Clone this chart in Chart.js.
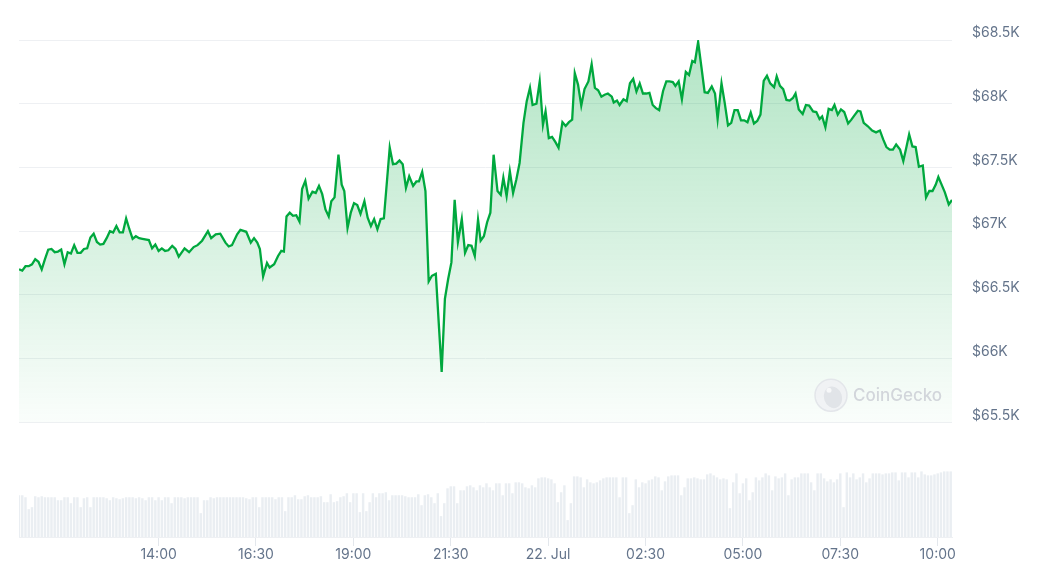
<!doctype html>
<html lang="en">
  <head>
    <meta charset="utf-8">
    <title>BTC price 24h</title>
    <style>
      * {
        margin: 0;
        padding: 0;
      }
      body {
        background: #fff;
      }
      .chartBox {
        width: 1042px;
        height: 573px;
        position: relative;
      }
    </style>
  </head>
  <body>
    <div class="chartBox">
      <canvas id="myChart"></canvas>
    </div>
    <script src="https://cdn.jsdelivr.net/npm/chart.js"></script>
    <script>
    // price points: minutes since 00:00 on 21 Jul, price in USD
    const minutes = [
      625,630,635,640,645,650,655,660,665,670,
      675,680,685,690,695,700,705,710,715,720,
      725,730,735,740,745,750,755,760,765,770,
      775,780,785,790,795,800,805,810,815,825,
      830,835,840,845,850,855,861,866,871,880,
      887,894,900,907,916,921,928,935,943,948,
      953,961,966,975,982,987,992,996,1001,1007,
      1011,1018,1024,1029,1033,1037,1042,1047,1052,1057,
      1061,1066,1071,1077,1082,1087,1092,1097,1102,1106,
      1111,1117,1122,1126,1131,1136,1141,1146,1151,1157,
      1162,1167,1172,1177,1182,1187,1196,1201,1206,1211,
      1216,1221,1226,1232,1237,1241,1246,1251,1256,1261,
      1267,1272,1276,1281,1286,1291,1296,1301,1307,1312,
      1317,1322,1327,1332,1336,1341,1346,1351,1356,1362,
      1367,1371,1376,1381,1386,1391,1396,1402,1407,1412,
      1416,1422,1427,1432,1436,1441,1446,1451,1456,1462,
      1467,1472,1477,1481,1486,1491,1496,1502,1507,1512,
      1517,1522,1527,1532,1538,1541,1546,1550,1556,1561,
      1566,1571,1576,1581,1586,1591,1596,1601,1606,1611,
      1617,1622,1627,1632,1636,1641,1646,1652,1657,1662,
      1666,1671,1676,1681,1686,1692,1697,1701,1707,1712,
      1717,1722,1727,1732,1737,1742,1747,1752,1757,1762,
      1767,1772,1777,1782,1788,1792,1797,1802,1807,1812,
      1817,1821,1826,1832,1837,1842,1848,1853,1858,1862,
      1867,1872,1877,1881,1886,1891,1896,1902,1907,1912,
      1917,1921,1926,1932,1939,1945,1951,1956,1961,1966,
      1971,1976,1982,1987,1992,1996,2001,2006,2011,2017,
      2022,2027,2032,2037,2041,2046,2051,2057,2062
    ];
    const prices = [
      66700,66690,66725,66725,66740,66780,66760,66700,66780,66855,
      66860,66835,66840,66855,66740,66835,66825,66890,66830,66830,
      66860,66865,66950,66980,66915,66895,66900,66945,67000,66990,
      67040,66990,66990,67100,67015,66940,66960,66945,66940,66930,
      66865,66895,66845,66865,66845,66850,66885,66860,66800,66865,
      66835,66875,66890,66925,67000,66945,66975,66980,66910,66880,
      66890,66975,67010,66995,66910,66945,66910,66860,66645,66750,
      66715,66740,66805,66845,66840,67115,67145,67120,67125,67075,
      67330,67395,67255,67310,67300,67355,67290,67170,67115,67235,
      67265,67600,67365,67315,67025,67145,67220,67205,67135,67235,
      67105,67040,67095,67015,67095,67100,67655,67525,67530,67555,
      67525,67340,67430,67355,67390,67390,67465,67315,66605,66650,
      66665,66235,65895,66470,66625,66755,67245,66915,67095,66830,
      66890,66885,66805,67090,66925,66960,67070,67145,67600,67315,
      67285,67420,67275,67470,67300,67405,67535,67850,68020,68125,
      67990,68000,68175,67835,67940,67730,67740,67700,67655,67855,
      67825,67855,67875,68240,68150,67985,68115,68175,68310,68125,
      68105,68055,68070,68080,68055,68010,68025,67990,68035,68020,
      68160,68195,68095,68160,68080,68080,68085,67990,67965,67950,
      68100,68175,68175,68170,68140,68175,68035,68250,68225,68335,
      68325,68485,68290,68090,68085,68135,68080,67880,68160,68005,
      67830,67850,67950,67950,67870,67870,67855,67930,67845,67865,
      67915,68180,68220,68160,68130,68215,68140,68115,68030,68025,
      68045,68080,67955,67920,67990,67985,67940,67935,67880,67900,
      67815,67960,67950,67990,67915,67955,67935,67845,67875,67910,
      67945,67940,67850,67825,67790,67775,67790,67720,67660,67640,
      67640,67680,67640,67550,67665,67760,67665,67660,67505,67515,
      67265,67315,67315,67365,67425,67365,67305,67210,67245
    ];

    // 5-minute volume bars (USD millions), first bar at volStart
    const volStart = 625;
    const volStep = 5;
    const volumes = [
      42,42,40,28,30,41,40,41,40,40,
      40,40,37,37,40,40,34,40,40,30,
      39,40,30,40,40,40,40,39,37,40,
      39,38,39,40,40,40,39,40,39,37,
      40,40,37,40,37,40,40,34,40,40,
      40,39,40,40,40,40,24,37,37,40,
      39,40,40,40,40,40,40,40,40,40,
      39,38,40,40,30,40,40,40,40,38,
      40,40,26,40,40,42,38,38,41,42,
      40,40,40,41,35,35,43,35,36,40,
      41,44,35,44,44,25,44,26,35,44,
      40,44,44,45,37,42,42,42,42,41,
      40,40,40,43,32,42,43,40,34,44,
      21,34,49,51,51,34,47,47,51,52,
      50,47,52,50,54,50,47,54,54,42,
      54,
      54,44,55,55,54,50,49,52,50,59,
      60,60,59,58,54,35,45,52,17,34,
      61,61,60,50,58,55,54,55,57,59,
      60,60,60,60,40,60,60,24,32,58,
      50,55,54,57,58,61,60,47,56,61,
      62,62,62,42,50,59,59,60,59,58,
      58,63,64,62,60,58,59,58,29,55,
      64,44,54,59,37,45,60,57,60,64,
      62,47,61,59,60,64,42,58,60,60,
      64,64,64,55,47,64,64,59,56,58,
      55,58,64,30,65,60,64,58,60,64,
      55,59,64,64,64,63,64,64,65,65,
      57,65,65,60,65,65,60,66,63,62,
      62,63,64,65,66,66,66
    ];

    const priceTicks = [65500, 66000, 66500, 67000, 67500, 68000, 68500];
    const priceTickLabels = ['$65.5K', '$66K', '$66.5K', '$67K', '$67.5K', '$68K', '$68.5K'];
    const timeTicks = [840, 990, 1140, 1290, 1440, 1590, 1740, 1890, 2040];
    const timeTickLabels = ['14:00', '16:30', '19:00', '21:30', '22. Jul', '02:30', '05:00', '07:30', '10:00'];

    Chart.defaults.font.family = "Inter, 'Noto Sans', sans-serif";

    const labelColor = '#64748b';
    const lineColor = '#00a83e';

    function areaFill(context) {
      const chart = context.chart;
      if (!chart.chartArea) return null;
      const y = chart.scales.y;
      const top = y.getPixelForValue(priceTicks[priceTicks.length - 1]);
      const bottom = y.getPixelForValue(priceTicks[0]);
      const g = chart.ctx.createLinearGradient(0, top, 0, bottom);
      g.addColorStop(0, 'rgba(0, 168, 62, 0.30)');
      g.addColorStop(1, 'rgba(0, 168, 62, 0.02)');
      return g;
    }

    // faint CoinGecko mark in the lower right of the price pane
    const watermark = {
      id: 'watermark',
      afterDatasetsDraw(chart) {
        const { ctx, chartArea } = chart;
        const cx = chartArea.right - 121;
        const cy = chart.scales.y.getPixelForValue(priceTicks[0]) - 27;
        ctx.save();
        ctx.beginPath();
        ctx.arc(cx, cy, 16, 0, Math.PI * 2);
        ctx.fillStyle = 'rgba(240, 242, 244, 0.9)';
        ctx.fill();
        ctx.lineWidth = 1.5;
        ctx.strokeStyle = '#e3e6ea';
        ctx.stroke();
        ctx.beginPath();
        ctx.ellipse(cx + 2, cy + 2, 9, 11, -0.3, 0, Math.PI * 2);
        ctx.fillStyle = '#e1e4e8';
        ctx.fill();
        ctx.beginPath();
        ctx.arc(cx - 2, cy - 5, 2.5, 0, Math.PI * 2);
        ctx.fillStyle = '#f7f8f9';
        ctx.fill();
        ctx.font = "500 17px Inter, 'Noto Sans', sans-serif";
        ctx.fillStyle = '#d2d6db';
        ctx.textAlign = 'left';
        ctx.textBaseline = 'middle';
        ctx.fillText('CoinGecko', cx + 22, cy + 1);
        ctx.restore();
      }
    };

    const data = {
      datasets: [
        {
          type: 'line',
          label: 'Price',
          data: minutes.map((m, i) => ({ x: m, y: prices[i] })),
          yAxisID: 'y',
          borderColor: lineColor,
          borderWidth: 2.3,
          backgroundColor: areaFill,
          fill: { value: priceTicks[0] },
          pointRadius: 0,
          tension: 0,
          order: 0
        },
        {
          type: 'bar',
          label: 'Volume',
          data: volumes.map((v, i) => ({ x: volStart + i * volStep, y: v })),
          yAxisID: 'y1',
          backgroundColor: '#eaeef2',
          barPercentage: 0.75,
          categoryPercentage: 1,
          order: 1
        }
      ]
    };

    const config = {
      type: 'line',
      data,
      options: {
        responsive: true,
        maintainAspectRatio: false,
        animation: false,
        layout: { padding: { left: 19, top: 40, right: 0, bottom: 0 } },
        plugins: {
          legend: { display: false },
          tooltip: { enabled: false }
        },
        scales: {
          x: {
            type: 'linear',
            min: minutes[0],
            max: minutes[minutes.length - 1],
            offset: false,
            afterBuildTicks: (scale) => { scale.ticks = timeTicks.map(v => ({ value: v })); },
            afterFit: (scale) => { scale.height = 36; },
            ticks: {
              callback: (v, i) => timeTickLabels[i],
              color: labelColor,
              font: { size: 14 },
              padding: 0,
              maxRotation: 0,
              autoSkip: false
            },
            grid: { drawOnChartArea: false, tickLength: 9, color: '#e3e7ec', offset: false },
            border: { color: '#eef0f3' }
          },
          y: {
            position: 'right',
            min: 64600,
            max: 68500,
            afterBuildTicks: (scale) => { scale.ticks = priceTicks.map(v => ({ value: v })); },
            afterFit: (scale) => { scale.width = 90; },
            ticks: {
              callback: (v, i) => priceTickLabels[i],
              color: labelColor,
              font: { size: 14 },
              padding: 20,
              labelOffset: -7
            },
            grid: { color: '#eef0f3', drawTicks: false },
            border: { display: false }
          },
          y1: {
            display: false,
            min: 0,
            max: 500
          }
        }
      },
      plugins: [watermark]
    };

    const myChart = new Chart(
      document.getElementById('myChart'),
      config
    );
    </script>
  </body>
</html>
